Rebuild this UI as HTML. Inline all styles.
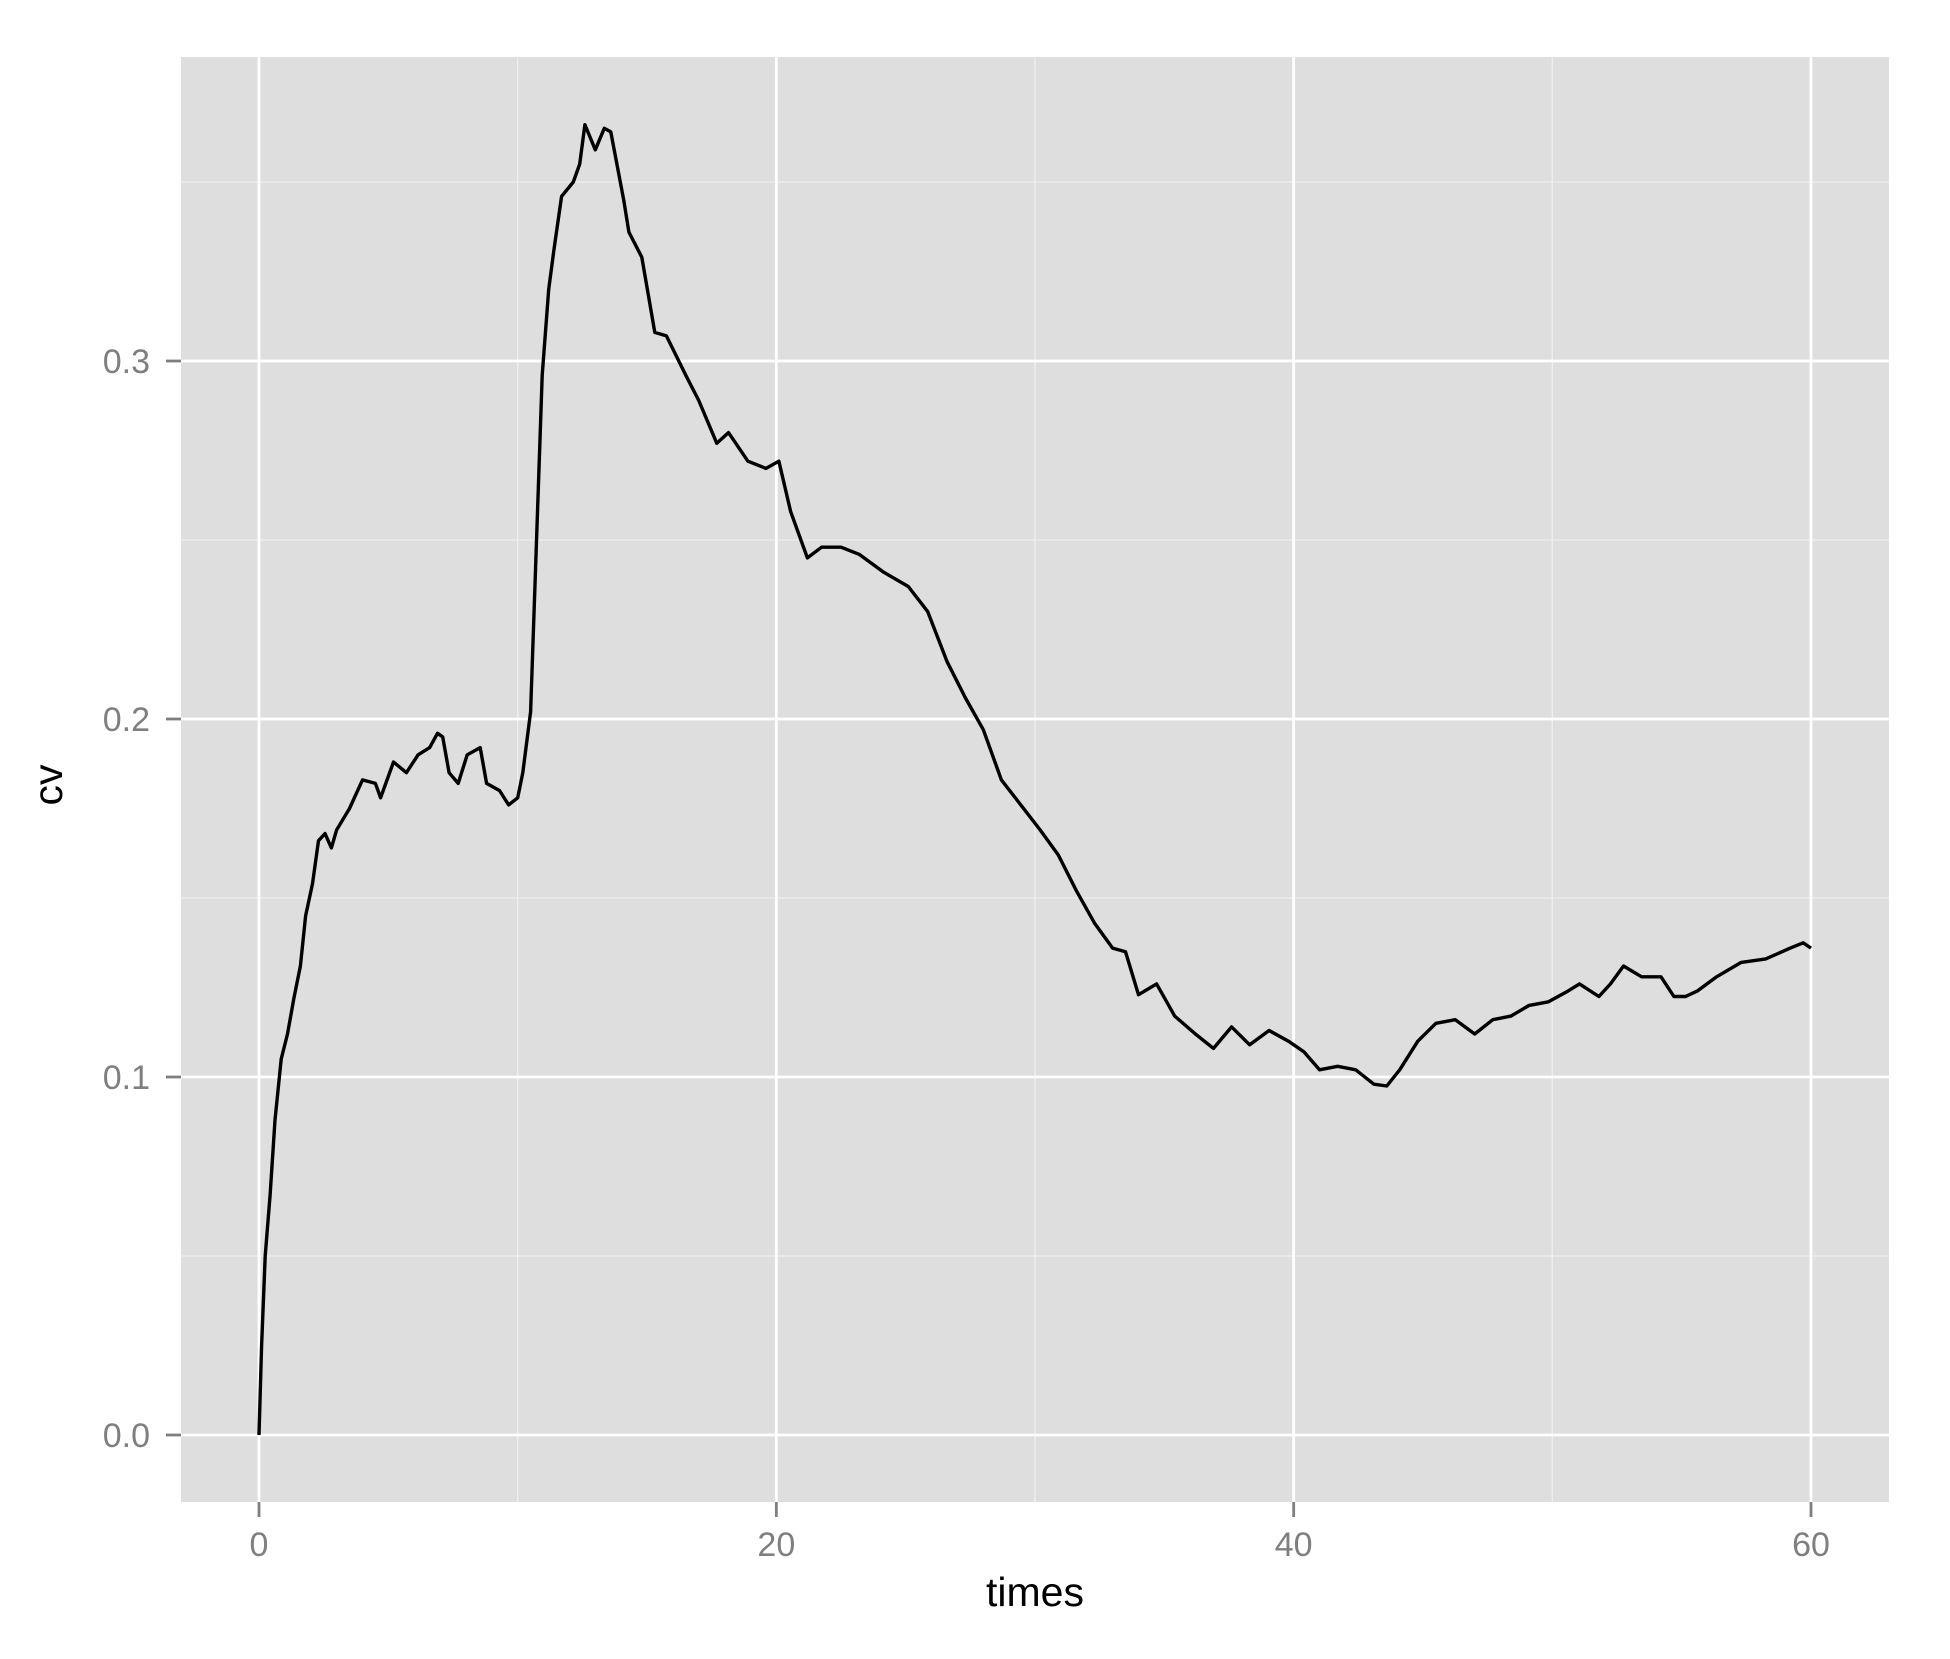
<!DOCTYPE html>
<html><head><meta charset="utf-8"><style>
html,body{margin:0;padding:0;background:#fff;}
svg text{font-family:"Liberation Sans",sans-serif;}
</style></head><body>
<svg id="chart" width="1950" height="1654" xmlns="http://www.w3.org/2000/svg">
<rect x="181" y="57" width="1708" height="1445" fill="#dedede"/>
<g id="grid"></g><g id="axes"></g>
<path id="line" fill="none" stroke="#000" stroke-width="3.4" stroke-linejoin="round"/>
<text x="1035" y="1606" font-size="41" text-anchor="middle" fill="#000">times</text>
<text transform="translate(62,785) rotate(-90)" font-size="41" text-anchor="middle" fill="#000">cv</text>
</svg>
<script>
const times=[0,0.1,0.24,0.43,0.62,0.86,1.1,1.35,1.6,1.8,2.07,2.3,2.55,2.8,3.0,3.5,4.0,4.5,4.7,5.2,5.7,6.15,6.6,6.9,7.1,7.35,7.7,8.05,8.55,8.8,9.3,9.65,10.0,10.2,10.5,10.7,10.95,11.2,11.4,11.7,12.15,12.4,12.6,13.0,13.35,13.6,14.1,14.3,14.8,15.3,15.75,16.5,17.0,17.7,18.15,18.9,19.6,20.1,20.55,21.2,21.75,22.5,23.2,24.15,25.1,25.85,26.6,27.3,28.0,28.7,29.45,30.2,30.9,31.6,32.3,33.0,33.5,34.0,34.7,35.4,36.2,36.9,37.6,38.3,39.05,39.8,40.4,41.0,41.7,42.4,43.1,43.6,44.1,44.8,45.5,46.25,47.0,47.7,48.4,49.1,49.85,50.6,51.05,51.8,52.25,52.75,53.45,54.2,54.7,55.15,55.6,56.35,57.3,58.25,59.2,59.7,60.0];
const cv=[0,0.025,0.05,0.067,0.088,0.105,0.112,0.122,0.131,0.145,0.154,0.166,0.168,0.164,0.169,0.175,0.183,0.182,0.178,0.188,0.185,0.19,0.192,0.196,0.195,0.185,0.182,0.19,0.192,0.182,0.18,0.176,0.178,0.185,0.202,0.244,0.296,0.32,0.331,0.346,0.35,0.355,0.366,0.359,0.365,0.364,0.345,0.336,0.329,0.308,0.307,0.296,0.289,0.277,0.28,0.272,0.27,0.272,0.258,0.245,0.248,0.248,0.246,0.241,0.237,0.23,0.216,0.206,0.197,0.183,0.176,0.169,0.162,0.152,0.143,0.136,0.135,0.123,0.126,0.117,0.112,0.108,0.114,0.109,0.113,0.11,0.107,0.102,0.103,0.102,0.098,0.0975,0.102,0.11,0.115,0.116,0.112,0.116,0.117,0.12,0.121,0.124,0.126,0.1225,0.126,0.131,0.128,0.128,0.1225,0.1225,0.124,0.128,0.132,0.133,0.136,0.1375,0.136];
const xTicks=[0,20,40,60];
const xMinor=[10,30,50];
const yTicks=[0,0.1,0.2,0.3];
const yMinor=[0.05,0.15,0.25,0.35];
const yLabels=["0.0","0.1","0.2","0.3"];
const X=t=>259+t*(1811-259)/60;
const Y=v=>1435-v*(1435-361)/0.3;
const NS="http://www.w3.org/2000/svg";
const grid=document.getElementById('grid'),axes=document.getElementById('axes');
function mk(tag,attrs,parent){const e=document.createElementNS(NS,tag);for(const k in attrs)e.setAttribute(k,attrs[k]);parent.appendChild(e);return e;}
xMinor.forEach(t=>{const e=mk('line',{x1:X(t),x2:X(t),y1:57,y2:1502,stroke:'#efefef','stroke-width':1.3},grid);

});
yMinor.forEach(v=>{const e=mk('line',{x1:181,x2:1889,y1:Y(v),y2:Y(v),stroke:'#efefef','stroke-width':1.3},grid);

});
xTicks.forEach(t=>{const e=mk('line',{x1:X(t),x2:X(t),y1:57,y2:1502,stroke:'#fff','stroke-width':2.8},grid);


const tk=mk('line',{x1:X(t),x2:X(t),y1:1502,y2:1517,stroke:'#7f7f7f','stroke-width':2.8},axes);


const tx=mk('text',{x:X(t),y:1556,'font-size':34,'text-anchor':'middle',fill:'#7f7f7f'},axes);tx.textContent=t;

});
yTicks.forEach((v,i)=>{const e=mk('line',{x1:181,x2:1889,y1:Y(v),y2:Y(v),stroke:'#fff','stroke-width':2.8},grid);


const tk=mk('line',{x1:166,x2:181,y1:Y(v),y2:Y(v),stroke:'#7f7f7f','stroke-width':2.8},axes);


const tx=mk('text',{x:150,y:Y(v)+12,'font-size':34,'text-anchor':'end',fill:'#7f7f7f'},axes);tx.textContent=yLabels[i];

});
document.getElementById('line').setAttribute('d',times.map((t,i)=>(i?'L':'M')+X(t).toFixed(1)+','+Y(cv[i]).toFixed(1)).join(''));
</script>
</body></html>
